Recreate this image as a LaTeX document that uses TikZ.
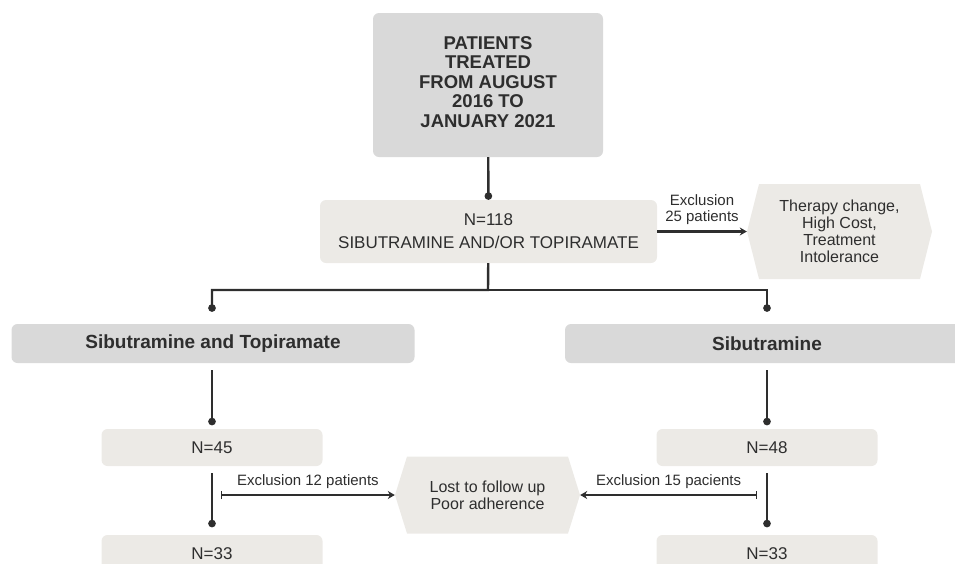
\documentclass[tikz,border=0pt]{standalone}
\usepackage{fontspec}
\setmainfont{Liberation Sans}
\usetikzlibrary{arrows.meta}
\definecolor{boxgray}{HTML}{D9D9D9}
\definecolor{boxbeige}{HTML}{ECEAE6}
\definecolor{ink}{HTML}{2E2E2E}
\tikzset{
  bigbox/.style={
    fill = boxgray,
    rounded corners = 6pt,
    text = ink,
    align = center,
    font = \bfseries\fontsize{18.5}{19.5}\selectfont
  },
  groupbox/.style={
    fill = boxgray,
    rounded corners = 6pt,
    minimum width = 403pt,
    minimum height = 39pt,
    text = ink,
    font = \bfseries\fontsize{19}{22}\selectfont
  },
  countbox/.style={
    fill = boxbeige,
    rounded corners = 6pt,
    minimum width = 221pt,
    minimum height = 37pt,
    text = ink,
    align = center,
    font = \fontsize{17}{23}\selectfont
  },
  hexbox/.style={
    text = ink,
    align = center,
    font = \fontsize{16}{17}\selectfont,
    path picture = {
      \fill[boxbeige] ([xshift=12pt]path picture bounding box.north west)
        -- ([xshift=-12pt]path picture bounding box.north east)
        -- (path picture bounding box.east)
        -- ([xshift=-12pt]path picture bounding box.south east)
        -- ([xshift=12pt]path picture bounding box.south west)
        -- (path picture bounding box.west) -- cycle;
    }
  },
  link/.style={
    draw = ink,
    line width = 2.4pt,
    -{Circle[length=7.5pt]}
  },
  arr/.style={
    draw = ink,
    line width = 2.2pt,
    -{Stealth[length=7pt,width=8pt]}
  },
  excl/.style={
    arr,
    {Bar[width=8pt,line width=1.4pt]}-{Stealth[length=7pt,width=8pt]}
  },
  lbl/.style={
    text = ink,
    align = center,
    font = \fontsize{15}{16}\selectfont
  }
}
\begin{document}
\begin{tikzpicture}[x=1pt,y=-1pt]
  \clip (0,0) rectangle (955,563);
  \node[bigbox, minimum width=230pt, minimum height=144pt] (pts) at (488,85)
    {PATIENTS\\TREATED\\FROM AUGUST\\2016 TO\\JANUARY 2021\\[-13pt]};
  \node[countbox, minimum width=337pt, minimum height=63pt] (all) at (488.5,231.5)
    {N=118\\SIBUTRAMINE AND/OR TOPIRAMATE};
  \node[hexbox, minimum width=185pt, minimum height=95pt] (ex) at (839.5,231.5)
    {Therapy change,\\High Cost,\\Treatment\\Intolerance};
  \node[hexbox, minimum width=185pt, minimum height=77pt] (lost) at (487.5,495)
    {Lost to follow up\\Poor adherence};

  \node[groupbox] (st) at (213,343.5) {Sibutramine and Topiramate};
  \node[groupbox, minimum width=404pt] (s) at (767,343.5) {Sibutramine};
  \foreach \g/\x/\n in {st/212/45, s/767/48}{
    \node[countbox] (\g1) at (\x,447.5) {N=\n};
    \node[countbox] (\g2) at (\x,553.5) {N=33};
    \draw[link, shorten <=7pt, shorten >=3.5pt] (\g1 |- \g.south) -- (\g1);
    \draw[link, shorten <=7pt, shorten >=7.5pt] (\g1) -- (\g2);
  }

  \coordinate (split) at (488,290);
  \draw[link] (pts) -- (all);
  \draw[link, shorten >=12pt] (all) -- (split) -| (st1 |- st.north);
  \draw[link, shorten >=12pt] (split) -| (s);

  \draw[arr] (all) -- node[lbl, above=2pt] {Exclusion\\25 patients} (ex);
  \coordinate (x12) at (221,495);
  \coordinate (x15) at (757,495);
  \draw[excl] (x12) -- node[lbl, above=2pt] {Exclusion 12 patients} (lost);
  \draw[excl] (x15) -- node[lbl, above=2pt] {Exclusion 15 pacients} (lost);
\end{tikzpicture}
\end{document}
